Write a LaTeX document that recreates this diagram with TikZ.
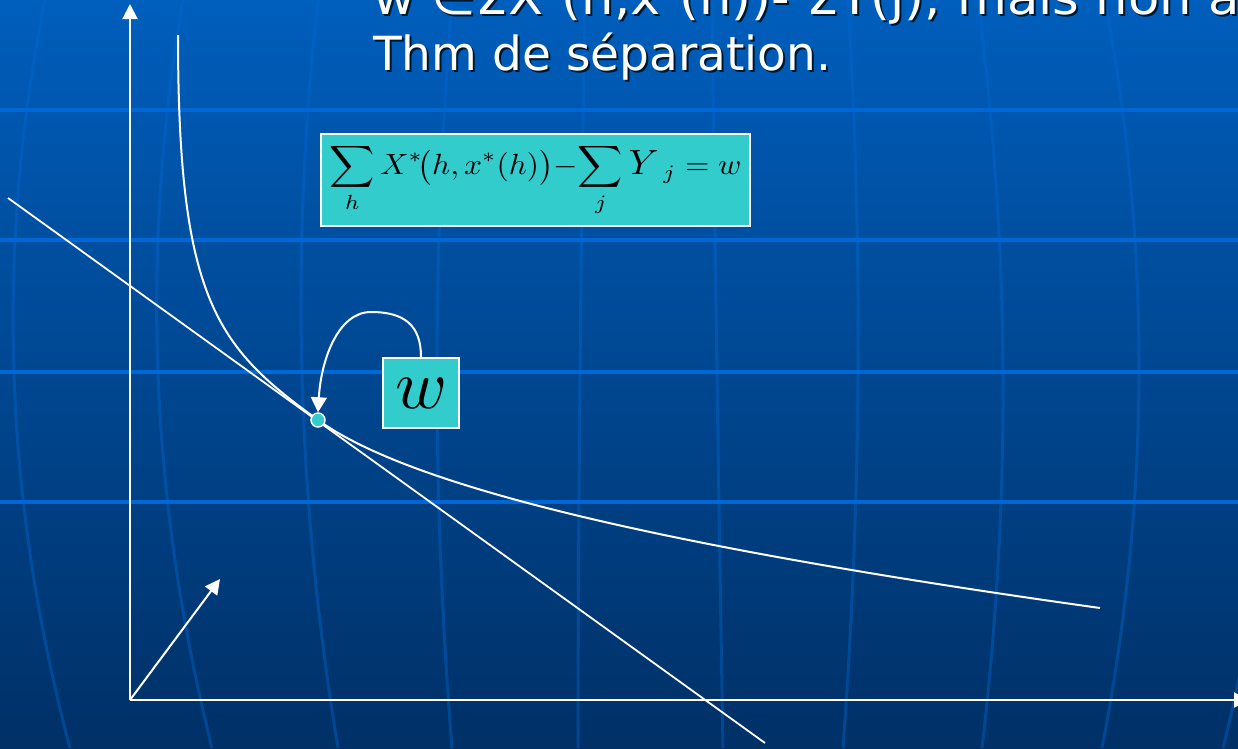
\documentclass[tikz,border=0pt]{standalone}
\usepackage[no-math]{fontspec}
\newfontfamily\slidefont{DejaVu Sans}
\usetikzlibrary{arrows.meta}
\definecolor{bgtop}{RGB}{0,94,188}
\definecolor{bgbot}{RGB}{0,48,102}
\definecolor{gridline}{RGB}{0,104,214}
\definecolor{turq}{RGB}{51,204,204}
\tikzset{
  meridian/.style={draw=gridline, opacity=0.4, line width=3pt},
  hline/.style={draw=gridline, line width=4pt},
  axisarrow/.style={draw=white, line width=2pt, -{Triangle[length=15pt,width=15pt]}},
  whitecurve/.style={draw=white, line width=2pt},
  tbox/.style={fill=turq, draw=white, line width=2pt, inner sep=0pt},
  slidetext/.style={anchor=base west, inner sep=0pt, text=white, font=\slidefont\fontsize{47}{56}\selectfont},
  shadowtext/.style={slidetext, text=black, opacity=0.75},
}
\newcommand\meridianline[3]{%
  \pgfmathsetmacro\mcx{(4*#2-#1-#3)/2}%
  \pgfmathsetmacro\mca{#1+2/3*(\mcx-#1)}%
  \pgfmathsetmacro\mcb{#3+2/3*(\mcx-#3)}%
  \draw[meridian] (#1,0) .. controls (\mca,249.33) and (\mcb,498.67) .. (#3,748);}
\newcommand\topline{\scalebox{1.09}[1]{w ∈ΣX\textsuperscript{*}(h,x\textsuperscript{*}(h))- ΣY(j), mais non a}}
\begin{document}
\begin{tikzpicture}[x=1pt,y=-1pt]
\useasboundingbox (0,0) rectangle (1238,748);
\clip (0,0) rectangle (1238,748);
\shade[top color=bgtop, bottom color=bgbot] (0,0) rectangle (1238,748);
% globe meridians
\meridianline{45}{14}{70}
\meridianline{183}{158}{212}
\meridianline{318}{302}{338}
\meridianline{452}{437}{452}
\meridianline{585}{580}{578}
\meridianline{712}{717}{723}
\meridianline{848}{858}{843}
\meridianline{978}{1003}{982}
\meridianline{1105}{1139}{1102}
\meridianline{1245}{1275}{1223}
% horizontal lines
\foreach \yy in {110,240,372,502} \draw[hline] (0,\yy) -- (1238,\yy);
% title text
\node[shadowtext] (t1s) at (375,16) {\topline};
\node[slidetext] (t1) at (373,14) {\topline};
\node[shadowtext] (t2s) at (375,72) {Thm de séparation.};
\node[slidetext] (t2) at (373,70) {Thm de séparation.};
% formula box
\node[tbox, minimum width=429pt, minimum height=92pt] (fbox) at (535.5,180)
  {\resizebox*{412pt}{72pt}{$\displaystyle\sum_h X^{*}\!\bigl(h,x^{*}(h)\bigr){-}\!\sum_j \scalebox{1.2}{$Y$}_{\,j}=w$}};
% coordinates
\coordinate (origin) at (130,700);
\coordinate (ytop) at (130,4);
\coordinate (xtip) at (1249,700);
\coordinate (dtip) at (220,579);
\coordinate (ptc) at (318,420);
\coordinate (c0) at (178,35);
\coordinate (c1) at (1100,608);
\coordinate (tl1) at (8,198);
\coordinate (tl2) at (765,743);
% curves
\draw[whitecurve] (c0) .. controls (178,301) and (217,347) .. (ptc) .. controls (408,485) and (650,545) .. (c1);
\draw[white, line width=1.8pt] (tl1) -- (tl2);
% axes
\draw[axisarrow] (origin) -- (ytop);
\draw[axisarrow] (origin) -- (xtip);
\draw[axisarrow] (origin) -- (dtip);
% point
\node[circle, fill=turq, draw=white, line width=1.5pt, minimum size=14pt, inner sep=0pt] (pt) at (ptc) {};
% w box
\node[tbox, minimum width=76pt, minimum height=70pt] (wbox) at (421,393) {\scalebox{7}{$w$}};
\draw[white, line width=2pt, -{Triangle[length=15pt,width=16pt]}] (wbox.north) .. controls (421,325) and (404,312) .. (371,312) .. controls (338,312) and (321,360) .. (pt.north);
\end{tikzpicture}
\end{document}
